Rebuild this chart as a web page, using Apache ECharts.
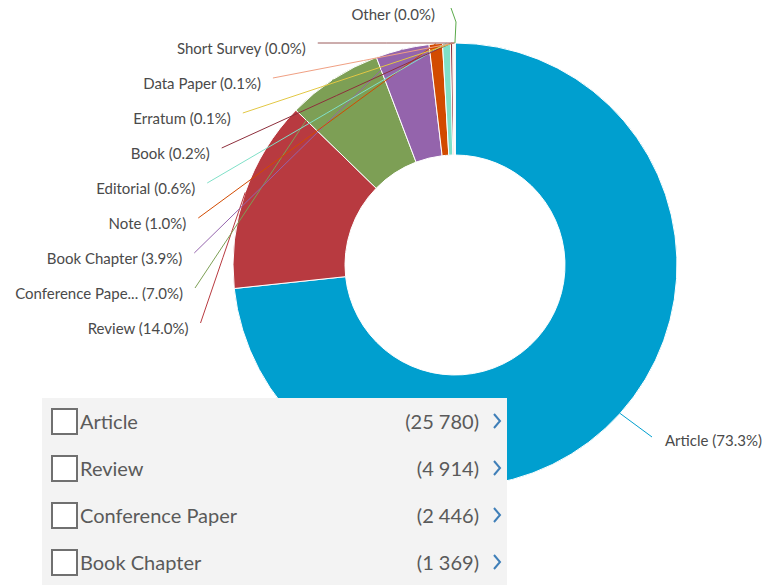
<!DOCTYPE html>
<html><head><meta charset="utf-8">
<script src="https://cdn.jsdelivr.net/npm/echarts@6/dist/echarts.min.js"></script>
<style>html,body{margin:0;padding:0;background:#fff}#c{width:778px;height:585px}</style>
</head><body><div id="c"></div>
<script>
// ---- data ----
var categories = ['Article','Review','Conference Paper','Book Chapter','Note','Editorial','Book','Erratum','Data Paper','Short Survey','Other'];
var counts = [25780, 4914, 2446, 1369, 340, 200, 60, 25, 20, 8, 3];
var colors = ['#009FCF','#B83A40','#7D9F55','#9464AC','#D24B00','#80E0C8','#8E2F3C','#E2C744','#F0A083','#9A5A5A','#5AAA4A'];
var panelNames = ['Article','Review','Conference Paper','Book Chapter'];
var panelCounts = ['25 780','4 914','2 446','1 369'];

// ---- layout constants ----
var CX = 455, CY = 265, R_IN = 110, R_OUT = 222, R_LABEL = 261;
var FONT = 'Lato, "Open Sans", sans-serif';

var chart = echarts.init(document.getElementById('c'), null, {renderer: 'svg'});

function leftLabelPos(idx) {
  var ty = 328 - 35 * (idx - 1);
  var ly = ty - 5;
  var dy = ly - CY;
  var lx = CX - Math.sqrt(R_LABEL * R_LABEL - dy * dy);
  return {tx: lx - 12, ty: ty, lx: lx, ly: ly};
}

var graphics = [{
  type: 'rect', z: 100, shape: {x: 42, y: 398, width: 465, height: 187},
  style: {fill: '#F3F3F3'}
}];
panelNames.forEach(function (n, i) {
  var y = 421 + 47 * i;
  graphics.push({type: 'rect', z: 101, shape: {x: 52, y: y - 12, width: 25, height: 25},
    style: {fill: '#fff', stroke: '#707070', lineWidth: 2}});
  graphics.push({type: 'text', z: 101, x: 80, y: y,
    style: {text: n, font: '20px ' + FONT, fill: '#5a5a5a', verticalAlign: 'middle', align: 'left'}});
  graphics.push({type: 'text', z: 101, x: 479, y: y,
    style: {text: '(' + panelCounts[i] + ')', font: '20px ' + FONT, fill: '#5a5a5a', verticalAlign: 'middle', align: 'right'}});
  graphics.push({type: 'polyline', z: 101, shape: {points: [[494, y - 7], [500, y], [494, y + 7]]},
    style: {stroke: '#3F7FB8', lineWidth: 2, fill: null}});
});

function labelLayout(p) {
  var i = p.dataIndex;
  var s = p.labelLinePoints ? p.labelLinePoints[0] : [CX, CY - R_OUT];
  if (i === 0) {
    return {x: 665, y: 440, align: 'left', verticalAlign: 'middle',
      labelLinePoints: [s, [(s[0] + 652) / 2, (s[1] + 437) / 2], [652, 437]]};
  }
  if (i === categories.length - 1) {
    return {x: 435, y: 14, align: 'right', verticalAlign: 'middle',
      labelLinePoints: [s, [456, 22], [451, 8]]};
  }
  var q = leftLabelPos(i);
  return {x: q.tx, y: q.ty, align: 'right', verticalAlign: 'middle',
    labelLinePoints: [s, [(s[0] + q.lx) / 2, (s[1] + q.ly) / 2], [q.lx, q.ly]]};
}

var common = {
  type: 'pie',
  center: [CX, CY],
  radius: [R_IN, R_OUT],
  startAngle: 90,
  clockwise: true,
  percentPrecision: 5,
  avoidLabelOverlap: false,
  emphasis: {disabled: true},
  silent: true
};

chart.setOption({
  animation: false,
  color: colors,
  graphic: graphics,
  series: [
    Object.assign({}, common, {
      z: 2,
      itemStyle: {borderColor: '#fff', borderWidth: 1},
      label: {show: false},
      labelLine: {show: false},
      data: categories.map(function (c, i) { return {name: c, value: counts[i]}; })
    }),
    Object.assign({}, common, {
      z: 5,
      itemStyle: {color: 'rgba(0,0,0,0)', borderWidth: 0},
      label: {
        show: true,
        position: 'outside',
        fontFamily: FONT,
        fontSize: 15,
        color: '#4a4a4a',
        formatter: function (p) {
          var n = p.name.length > 15 ? p.name.slice(0, 15) + '...' : p.name;
          return n + ' (' + p.percent.toFixed(1) + '%)';
        }
      },
      labelLine: {show: true, length: 10, length2: 10, lineStyle: {width: 1}},
      labelLayout: labelLayout,
      data: categories.map(function (c, i) {
        return {name: c, value: counts[i], labelLine: {lineStyle: {color: colors[i]}}};
      })
    })
  ]
});
</script></body></html>
